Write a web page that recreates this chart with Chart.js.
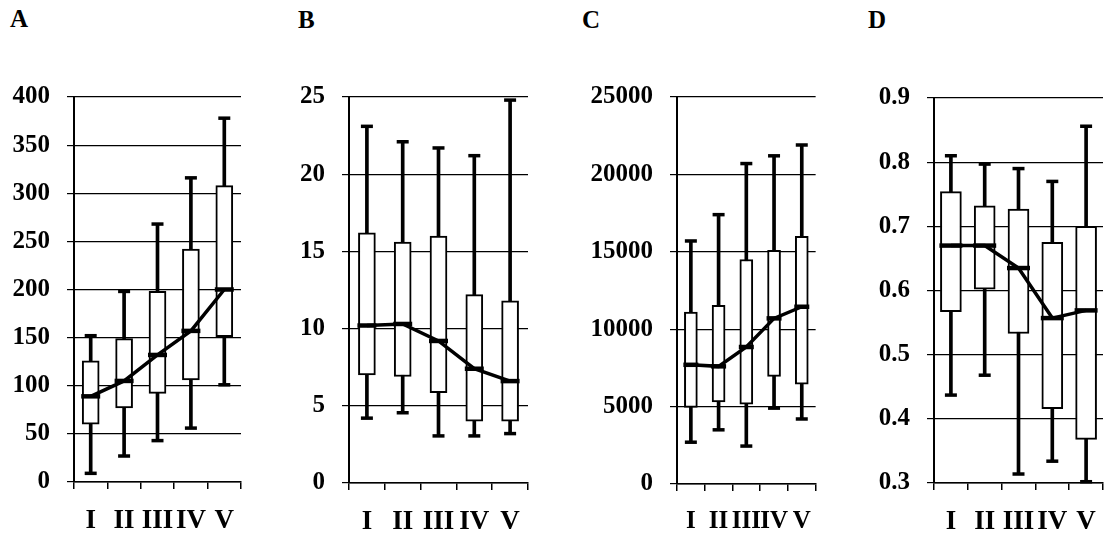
<!DOCTYPE html>
<html>
<head>
<meta charset="utf-8">
<script src="https://cdn.jsdelivr.net/npm/chart.js@4"></script>
<style>
  html, body { margin: 0; padding: 0; background: #fff; }
  body { width: 1119px; height: 539px; position: relative; overflow: hidden; }
  canvas { position: absolute; top: 0; }
  .lbl { position: absolute; font: bold 25px "Liberation Serif", "Times New Roman", serif; line-height: 25px; color: #000; }
</style>
</head>
<body>
<div class="lbl" style="left:10px;top:6px">A</div>
<div class="lbl" style="left:298px;top:7px">B</div>
<div class="lbl" style="left:582px;top:7px">C</div>
<div class="lbl" style="left:868px;top:7px">D</div>
<canvas id="cA" width="255" height="539" style="left:0px"></canvas>
<canvas id="cB" width="262" height="539" style="left:280px"></canvas>
<canvas id="cC" width="248" height="539" style="left:580px"></canvas>
<canvas id="cD" width="259" height="539" style="left:860px"></canvas>
<script>
const categories = ['I', 'II', 'III', 'IV', 'V'];

// Panel A
const aHigh = [152, 198, 268, 316, 378];
const aQ3   = [126, 149, 198, 242, 308];
const aQ1   = [60, 77, 92, 106, 151];
const aLow  = [9, 27, 43, 56, 101];
const aMean = [89, 105, 132, 157, 200];
const aTicks = [0, 400, 50];

// Panel B
const bHigh = [23.1, 22.1, 21.7, 21.2, 24.8];
const bQ3   = [16.2, 15.6, 16.0, 12.2, 11.8];
const bQ1   = [7.0, 6.9, 5.85, 4.0, 4.0];
const bLow  = [4.2, 4.55, 3.05, 3.05, 3.2];
const bMean = [10.2, 10.3, 9.2, 7.4, 6.6];
const bTicks = [0, 25, 5];

// Panel C
const cHigh = [15700, 17400, 20700, 21200, 21900];
const cQ3   = [11100, 11550, 14500, 15100, 16000];
const cQ1   = [4950, 5300, 5150, 6950, 6450];
const cLow  = [2700, 3500, 2450, 4900, 4200];
const cMean = [7700, 7600, 8850, 10700, 11450];
const cTicks = [0, 25000, 5000];

// Panel D
const dHigh = [0.81, 0.797, 0.79, 0.77, 0.856];
const dQ3   = [0.754, 0.732, 0.727, 0.675, 0.70];
const dQ1   = [0.567, 0.602, 0.533, 0.416, 0.368];
const dLow  = [0.437, 0.468, 0.314, 0.334, 0.302];
const dMean = [0.67, 0.67, 0.635, 0.557, 0.569];
const dTicks = [0.3, 0.9, 0.1];

const SERIF = '"Liberation Serif", "Times New Roman", serif';

function makePanel(id, high, q3, q1, low, mean, ticks, opt) {
  const [mn, mx, step] = ticks;
  const ctx = document.getElementById(id);
  const canvasH = 539;
  new Chart(ctx, {
    type: 'bar',
    data: {
      labels: categories,
      datasets: [
        { type: 'line', data: mean, borderColor: '#000', borderWidth: 3.5,
          pointStyle: 'line', pointRadius: opt.box / 2 + 1, pointBorderWidth: 4.5,
          pointBorderColor: '#000', pointBackgroundColor: '#000', clip: false, tension: 0 },
        { type: 'bar', data: q1.map((v, i) => [v, q3[i]]), backgroundColor: '#fff',
          borderColor: '#000', borderWidth: 2, borderSkipped: false,
          barThickness: opt.box, grouped: false, clip: false },
        { type: 'line', data: high, showLine: false, pointStyle: 'line', pointRadius: 6,
          pointBorderWidth: 3.5, pointBorderColor: '#000', clip: false },
        { type: 'line', data: low, showLine: false, pointStyle: 'line', pointRadius: 6,
          pointBorderWidth: 3.5, pointBorderColor: '#000', clip: false },
        { type: 'bar', data: low.map((v, i) => [v, high[i]]), backgroundColor: '#000',
          borderWidth: 0, barThickness: 3, grouped: false, clip: false }
      ]
    },
    options: {
      responsive: false,
      animation: false,
      devicePixelRatio: 1,
      layout: { padding: { top: opt.top, right: opt.right, left: 0, bottom: 0 } },
      plugins: { legend: { display: false }, tooltip: { enabled: false } },
      scales: {
        x: {
          offset: true,
          grid: { display: true, offset: true, drawOnChartArea: false, drawTicks: true,
                  tickLength: 7, color: '#000', lineWidth: 1.5 },
          border: { display: true, color: '#000', width: 1.5 },
          ticks: { color: '#000', padding: 16, autoSkip: false, maxRotation: 0, minRotation: 0,
                   font: { family: SERIF, size: opt.xf, weight: 'bold' } },
          afterFit: (s) => { s.height = canvasH - opt.bottom; }
        },
        y: {
          min: mn, max: mx,
          ticks: {
            stepSize: step, color: '#000', padding: 17,
            font: { family: SERIF, size: 25, weight: 'bold' },
            callback: (v) => opt.dec ? Number(v).toFixed(opt.dec) : String(Math.round(v))
          },
          grid: { color: '#000', lineWidth: 1.2, tickLength: 7, drawTicks: true },
          border: { display: true, color: '#000', width: 2 },
          afterFit: (s) => { s.width = opt.yw; }
        }
      }
    }
  });
}

makePanel('cA', aHigh, aQ3, aQ1, aLow, aMean, aTicks, { yw: 74, top: 97, bottom: 482, right: 4, box: 17, dec: 0, xf: 27 });
makePanel('cB', bHigh, bQ3, bQ1, bLow, bMean, bTicks, { yw: 69, top: 97, bottom: 483, right: 4, box: 17, dec: 0, xf: 27 });
makePanel('cC', cHigh, cQ3, cQ1, cLow, cMean, cTicks, { yw: 97, top: 97, bottom: 484, right: 4, box: 13, dec: 0, xf: 25 });
makePanel('cD', dHigh, dQ3, dQ1, dLow, dMean, dTicks, { yw: 74, top: 98, bottom: 483, right: 1, box: 21, dec: 1, xf: 27 });
</script>
</body>
</html>
